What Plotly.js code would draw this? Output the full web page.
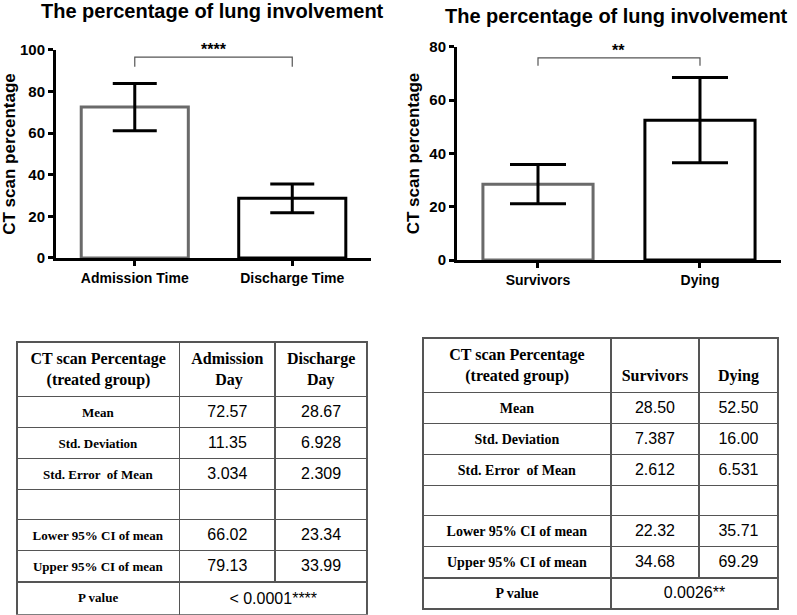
<!DOCTYPE html>
<html>
<head>
<meta charset="utf-8">
<script src="https://cdn.plot.ly/plotly-3.0.1.min.js"></script>
<style>html,body{margin:0;padding:0;background:#fff;}#chart{width:797px;height:615px;}</style>
</head>
<body>
<div id="chart"></div>
<script>
// ---- Data ----
const chartTitle = 'The percentage of lung involvement';
const yTitle = 'CT scan percentage';

const categoriesA = ['Admission Time', 'Discharge Time'];
const meansA = [72.57, 28.67];
const sdA = [11.35, 6.928];
const yTicksA = [0, 20, 40, 60, 80, 100];
const sigA = '****';
const bracketA = [92, 96.6];  // foot, top level

const categoriesB = ['Survivors', 'Dying'];
const meansB = [28.50, 52.50];
const sdB = [7.387, 16.00];
const yTicksB = [0, 20, 40, 60, 80];
const sigB = '**';
const bracketB = [73, 75.9];

const statLabels = ['Mean', 'Std. Deviation', 'Std. Error  of Mean', '', 'Lower 95% CI of mean', 'Upper 95% CI of mean'];
const headerA = ['CT scan Percentage<br>(treated group)', 'Admission<br>Day', 'Discharge<br>Day'];
const headerB = ['CT scan Percentage<br>(treated group)', 'Survivors', 'Dying'];
const colAdmission = ['72.57', '11.35', '3.034', '', '66.02', '79.13'];
const colDischarge = ['28.67', '6.928', '2.309', '', '23.34', '33.99'];
const colSurvivors = ['28.50', '7.387', '2.612', '', '22.32', '34.68'];
const colDying = ['52.50', '16.00', '6.531', '', '35.71', '69.29'];
const pLabel = 'P value';
const pValueA = '&lt; 0.0001****';
const pValueB = '0.0026**';

// ---- Styles ----
const SANS = 'Liberation Sans, Arial, sans-serif';
const SERIF = 'Liberation Serif, Times New Roman, serif';
const outline = ['#6a6a6a', '#000000'];
const bold = s => '<b>' + s + '</b>';

// centre every line of a multi-line table text (plotly left-aligns lines inside a centred block)
const cvs = document.createElement('canvas').getContext('2d');
function centerLines(text, size, family) {
  if (text.indexOf('<br>') < 0) return text;
  cvs.font = 'bold ' + size + 'px ' + family;
  const lines = text.split('<br>');
  const widths = lines.map(l => cvs.measureText(l).width);
  const maxW = Math.max.apply(null, widths);
  const sp = cvs.measureText('\u00a0').width || size * 0.25;
  return lines.map((l, i) => '\u00a0'.repeat(Math.max(0, Math.round((maxW - widths[i]) / 2 / sp))) + l).join('<br>');
}
// single-line headers next to two-line ones sit on the lower line (closer to the cell middle)
function headerText(list) {
  const multi = list.some(s => s.indexOf('<br>') >= 0);
  return list.map(s => bold(multi && s.indexOf('<br>') < 0 ? '\u00a0<br>' + s : centerLines(s, HDR, 'Liberation Serif')));
}

function barTrace(cats, means, sd, xa, ya, capw) {
  return {
    type: 'bar', x: cats, y: means, xaxis: xa, yaxis: ya,
    marker: {color: '#ffffff', line: {color: outline, width: 3}},
    error_y: {type: 'data', array: sd, visible: true, color: '#000', thickness: 3, width: capw},
    hoverinfo: 'none', showlegend: false
  };
}
function bracketTrace(cats, lv, xa, ya) {
  return {
    type: 'scatter', mode: 'lines', xaxis: xa, yaxis: ya,
    x: [cats[0], cats[0], cats[1], cats[1]],
    y: [lv[0], lv[1], lv[1], lv[0]],
    line: {color: '#555', width: 1.2}, hoverinfo: 'none', showlegend: false, cliponaxis: false
  };
}

const lineStyle = {color: '#555', width: 1.5};
const HDR = 16, VAL = 16;

function mainTable(header, labels, c1, c2, dom, widths, lbl) {
  return {
    type: 'table', domain: dom, columnwidth: widths,
    header: {
      values: headerText(header), align: 'center', height: 30,
      font: {family: SERIF, size: HDR, color: '#000'},
      line: lineStyle, fill: {color: '#fff'}
    },
    cells: {
      values: [labels.map(s => s ? bold(s) : s), c1, c2], align: 'center', height: 30,
      font: {family: [SERIF, SANS, SANS], size: [lbl, VAL, VAL], color: '#000'},
      line: lineStyle, fill: {color: '#fff'}
    }
  };
}
function pTable(val, dom, widths, lbl) {
  return {
    type: 'table', domain: dom, columnwidth: widths,
    header: {
      values: [bold(pLabel), val], align: 'center', height: 30,
      font: {family: [SERIF, SANS], size: [lbl, VAL], color: '#000'},
      line: lineStyle, fill: {color: '#fff'}
    },
    cells: {values: [[], []], line: lineStyle, fill: {color: '#fff'}}
  };
}

const data = [
  barTrace(categoriesA, meansA, sdA, 'x', 'y', 22),
  bracketTrace(categoriesA, bracketA, 'x', 'y'),
  barTrace(categoriesB, meansB, sdB, 'x2', 'y2', 28),
  bracketTrace(categoriesB, bracketB, 'x2', 'y2'),
  mainTable(headerA, statLabels, colAdmission, colDischarge, {x: [0.0213, 0.4617], y: [0.0, 1 - 341.8 / 615]}, [163, 96, 92], 13),
  pTable(pValueA, {x: [0.0213, 0.4617], y: [0.0, 1 - 581.8 / 615]}, [163, 188], 13),
  mainTable(headerB, statLabels, colSurvivors, colDying, {x: [0.5307, 0.9762], y: [0.0, 1 - 337.8 / 615]}, [188, 88, 79], 14),
  pTable(pValueB, {x: [0.5307, 0.9762], y: [0.0, 1 - 577.8 / 615]}, [188, 167], 14)
];

const tickFont = {family: SANS, size: 15, color: '#000'};
function xAx(dom, anchor, cats) {
  return {
    domain: dom, anchor: anchor, type: 'category', range: [-0.5, 1.5],
    tickvals: cats, ticktext: cats.map(bold),
    showline: true, linecolor: '#000', linewidth: 3, ticks: 'outside', ticklen: 5, tickwidth: 3, tickcolor: '#000',
    showgrid: false, zeroline: false, tickfont: {family: SANS, size: 14, color: '#000'}, automargin: false, fixedrange: true
  };
}
function yAx(dom, anchor, range, ticks) {
  return {
    domain: dom, anchor: anchor, range: range, tickmode: 'array', tickvals: ticks, ticktext: ticks.map(v => bold(String(v))),
    showline: true, linecolor: '#000', linewidth: 3, ticks: 'outside', ticklen: 5, tickwidth: 3, tickcolor: '#000',
    showgrid: false, zeroline: false, tickfont: tickFont, automargin: false, fixedrange: true,
    title: {text: bold(yTitle), font: {family: SANS, size: 17, color: '#000'}, standoff: 6}
  };
}

const layout = {
  width: 797, height: 615,
  margin: {l: 0, r: 0, t: 0, b: 0},
  paper_bgcolor: '#fff', plot_bgcolor: '#fff',
  bargap: 0.32, showlegend: false,
  xaxis: xAx([0.0703, 0.4655], 'y', categoriesA),
  yaxis: yAx([0.5805, 0.9187], 'x', [0, 100], yTicksA),
  xaxis2: xAx([0.5734, 0.9799], 'y2', categoriesB),
  yaxis2: yAx([0.5772, 0.9236], 'x2', [0, 80], yTicksB),
  annotations: [
    {text: bold(chartTitle), xref: 'paper', yref: 'paper', x: 0.267, y: 1 - 11 / 615, xanchor: 'center', yanchor: 'middle', showarrow: false, font: {family: SANS, size: 20, color: '#000'}},
    {text: bold(chartTitle), xref: 'paper', yref: 'paper', x: 0.774, y: 1 - 16 / 615, xanchor: 'center', yanchor: 'middle', showarrow: false, font: {family: SANS, size: 20, color: '#000'}},
    {text: bold(sigA), xref: 'x', yref: 'y', x: 0.5, y: bracketA[1], yanchor: 'bottom', yshift: -3, showarrow: false, font: {family: SANS, size: 16, color: '#000'}},
    {text: bold(sigB), xref: 'x2', yref: 'y2', x: 0.5, y: bracketB[1], yanchor: 'bottom', yshift: -3, showarrow: false, font: {family: SANS, size: 16, color: '#000'}}
  ]
};

Plotly.newPlot('chart', data, layout, {staticPlot: true});
</script>
</body>
</html>
